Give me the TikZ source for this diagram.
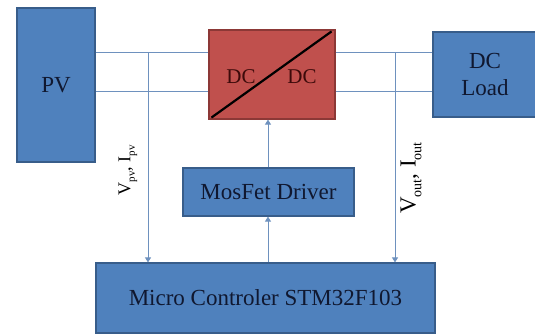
\documentclass[tikz,border=0pt]{standalone}
\usepackage{fontspec}
\setmainfont{Liberation Serif}
\usetikzlibrary{arrows.meta,positioning}
\definecolor{boxblue}{RGB}{79,129,189}
\definecolor{boxedge}{RGB}{56,93,138}
\definecolor{convred}{RGB}{192,80,77}
\definecolor{convedge}{RGB}{140,56,54}
\definecolor{wireblue}{RGB}{110,145,190}
\definecolor{txtnavy}{RGB}{16,24,48}
\definecolor{txtmaroon}{RGB}{60,10,10}
\newcommand{\meassub}[2]{\raisebox{-0.25em}{\fontsize{#1}{#1}\selectfont #2}}

\begin{document}
\begin{tikzpicture}[x=1pt, y=-1pt,
    blk/.style={rectangle, draw=boxedge, line width=1.2pt, fill=boxblue,
        text=txtnavy, font=\fontsize{23}{27}\selectfont, align=center, inner sep=0pt},
    convbox/.style={blk, draw=convedge, fill=convred},
    dctext/.style={text=txtmaroon, font=\fontsize{21}{23}\selectfont, inner sep=0pt},
    wire/.style={draw=wireblue, line width=0.9pt},
    arr/.style={wire, -{Triangle[length=5pt,width=6pt]}},
    meas/.style={rotate=90, text=black, inner sep=0pt}
]
    \useasboundingbox (0,0) rectangle (535,335);

    \node[blk, minimum width=78pt, minimum height=154pt] (pv) at (56,85) {PV};
    \node[convbox, minimum width=126pt, minimum height=89pt] (conv) at (272,74.5) {};
    \node[blk, minimum width=104pt, minimum height=85pt] (load) at (485,74.5) {DC\\Load};
    \node[blk, minimum width=171pt, minimum height=48pt] (driver) at (268.5,192) {MosFet Driver};
    \node[blk, minimum width=339pt, minimum height=70pt] (mcu) at (265.5,298) {Micro Controler STM32F103};

    % converter symbol
    \draw[black, line width=2.2pt] ([shift={(3,-2)}]conv.south west) -- ([shift={(-4,2)}]conv.north east);
    \node[dctext] (dcin) at (241,77) {DC};
    \node[dctext] (dcout) at (302,77) {DC};

    % power lines
    \coordinate (vtop) at (0,52);
    \coordinate (vbot) at (0,91);
    \draw[wire] (pv.east |- vtop) -- (conv.west |- vtop);
    \draw[wire] (pv.east |- vbot) -- (conv.west |- vbot);
    \draw[wire] (conv.east |- vtop) -- (load.west |- vtop);
    \draw[wire] (conv.east |- vbot) -- (load.west |- vbot);

    % measurements
    \coordinate (tapin) at (148,52);
    \coordinate (tapout) at (395,52);
    \draw[arr] (tapin) -- (tapin |- mcu.north);
    \draw[arr] (tapout) -- (tapout |- mcu.north);
    \node[meas, font=\fontsize{18}{20}\selectfont] (vpv) at (128,170) {V\meassub{11}{pv}, I\meassub{11}{pv}};
    \node[meas, font=\fontsize{23}{25}\selectfont] (vout) at (411,178) {V\meassub{14}{out}, I\meassub{14}{out}};

    % control path
    \coordinate (ctl) at (268,0);
    \draw[arr] (ctl |- mcu.north) -- (ctl |- driver.south);
    \draw[arr] (ctl |- driver.north) -- (ctl |- conv.south);
\end{tikzpicture}
\end{document}
